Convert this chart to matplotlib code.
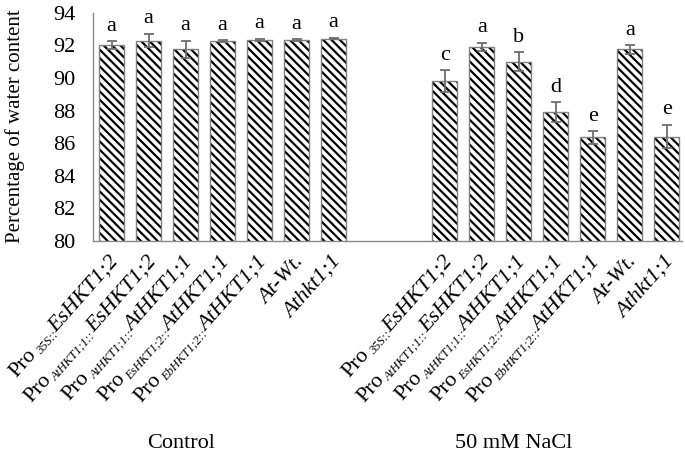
import matplotlib
matplotlib.use('Agg')
import matplotlib.pyplot as plt
from matplotlib.transforms import offset_copy
import numpy as np

plt.rcParams['font.family'] = ['Liberation Serif', 'DejaVu Serif']
plt.rcParams['hatch.linewidth'] = 1.6

# data
promoters = ['35S', 'AtHKT1;1', 'AtHKT1;1', 'EsHKT1;2', 'EbHKT1;2', None, None]
genes = ['EsHKT1;2', 'EsHKT1;2', 'AtHKT1;1', 'AtHKT1;1', 'AtHKT1;1', 'At-Wt.', 'Athkt1;1']
treatments = ['Control', '50 mM NaCl']
control_mean = [92.0, 92.3, 91.75, 92.25, 92.35, 92.32, 92.42]
control_err = [0.25, 0.4, 0.55, 0.06, 0.06, 0.06, 0.05]
control_letters = ['a', 'a', 'a', 'a', 'a', 'a', 'a']
nacl_mean = [89.8, 91.9, 91.0, 87.9, 86.35, 91.75, 86.4]
nacl_err = [0.67, 0.25, 0.57, 0.6, 0.38, 0.25, 0.72]
nacl_letters = ['c', 'a', 'b', 'd', 'e', 'a', 'e']

fig = plt.figure(figsize=(6.85, 4.58), dpi=100)
ax = fig.add_axes([0.136, 0.474, 0.86, 0.498])

n = len(genes)
x_ctrl = np.arange(n)
x_nacl = np.arange(n) + n + 2
xs = np.concatenate([x_ctrl, x_nacl])
means = control_mean + nacl_mean
errs = control_err + nacl_err
letters = control_letters + nacl_letters

width = 0.68
ax.bar(xs, means, width, bottom=0, color='white', edgecolor='black',
       hatch='\\\\\\\\', linewidth=0, zorder=2)
ax.bar(xs, means, width, fill=False, edgecolor='#808080', linewidth=1, zorder=3)
ax.errorbar(xs, means, yerr=errs, fmt='none', ecolor='#6e6e6e', elinewidth=1.3,
            capsize=3.6, capthick=1.3, zorder=4)

for x, m, e, t in zip(xs, means, errs, letters):
    ax.annotate(t, (x, m + e), xytext=(0, 4), textcoords='offset points',
                ha='center', va='bottom', fontsize=16)

ax.set_ylim(80, 94)
ax.set_yticks(np.arange(80, 95, 2))
ax.set_xlim(-0.5, 15.42)
ax.set_xticks(xs)
ax.set_xticklabels([])
ax.tick_params(axis='x', length=0)
ax.tick_params(axis='y', length=0, pad=13, labelsize=16)

for s in ['top', 'right']:
    ax.spines[s].set_visible(False)
for s in ['left', 'bottom']:
    ax.spines[s].set_color('#8c8c8c')
    ax.spines[s].set_linewidth(1)

# rotated tick labels built from pieces (roman "Pro", small italic promoter, italic gene)
renderer = fig.canvas.get_renderer()


def text_width_pt(s, size, style):
    t = fig.text(0, 0, s, fontsize=size, style=style)
    w = t.get_window_extent(renderer).width * 72 / fig.dpi
    t.remove()
    return w


def pieces_for(promoter, gene):
    if promoter is None:
        return [(gene, 16, 'italic', 0)]
    return [('Pro', 16, 'normal', 0), (promoter + '::', 9, 'italic', 2.5),
            (gene, 16, 'italic', 0)]


rot = 48.4
ang = np.deg2rad(rot)
u = np.array([np.cos(ang), np.sin(ang)])
down = np.array([np.sin(ang), -np.cos(ang)])
end_dx, end_dy = 5.4, -15  # baseline end of label relative to tick, points

for x, promoter, gene in zip(xs, promoters * 2, genes * 2):
    cursor = 0.0
    for s, size, style, drop in reversed(pieces_for(promoter, gene)):
        off = np.array([end_dx, end_dy]) - u * cursor + down * drop
        tr = offset_copy(ax.get_xaxis_transform(), fig=fig, x=off[0], y=off[1],
                         units='points')
        ax.text(x, 0, s, transform=tr, fontsize=size, style=style, rotation=rot,
                rotation_mode='anchor', ha='right', va='baseline', clip_on=False)
        cursor += text_width_pt(s, size, style) + (1.5 if size < 16 else 0)

fig.text(15 / 685, 1 - 126 / 458, 'Percentage of water content', rotation=90,
         ha='center', va='center', fontsize=15)

# group labels
fig.text(181 / 685, 1 - 444 / 458, treatments[0], ha='center', va='center', fontsize=16)
fig.text(514 / 685, 1 - 444 / 458, treatments[1], ha='center', va='center', fontsize=16)

fig.savefig('out.png', dpi=100)
